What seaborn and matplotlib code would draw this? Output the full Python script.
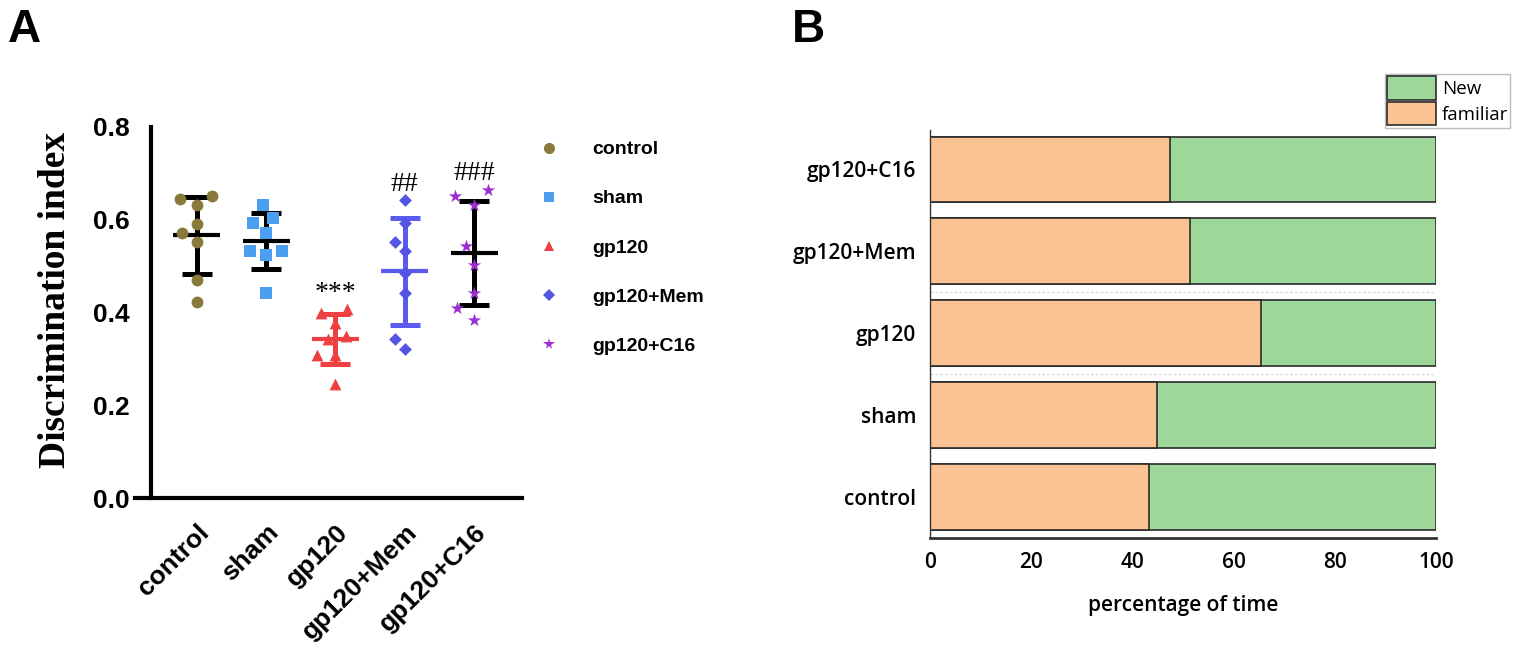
import matplotlib
matplotlib.use("Agg")
import matplotlib.pyplot as plt
from matplotlib.lines import Line2D
from matplotlib.patches import Patch
import numpy as np
import pandas as pd
import seaborn as sns

sns.set_style("white")
plt.rcParams["font.family"] = ["Liberation Sans", "DejaVu Sans"]
plt.rcParams["text.color"] = "black"
plt.rcParams["axes.labelcolor"] = "black"
plt.rcParams["xtick.color"] = "black"
plt.rcParams["ytick.color"] = "black"

# Panel A data: discrimination index per animal
groups = ["control", "sham", "gp120", "gp120+Mem", "gp120+C16"]
control_vals = [0.651, 0.644, 0.632, 0.591, 0.572, 0.552, 0.470, 0.422]
sham_vals = [0.632, 0.604, 0.593, 0.572, 0.532, 0.532, 0.523, 0.441]
gp120_vals = [0.407, 0.399, 0.378, 0.349, 0.343, 0.309, 0.309, 0.246]
mem_vals = [0.642, 0.593, 0.552, 0.532, 0.485, 0.441, 0.342, 0.322]
c16_vals = [0.664, 0.651, 0.632, 0.543, 0.503, 0.443, 0.409, 0.383]
sig_labels = ["", "", "***", "##", "###"]

# Panel B data: percentage of exploration time
bar_groups = ["gp120+C16", "gp120+Mem", "gp120", "sham", "control"]
familiar_pct = [47.5, 51.4, 65.4, 44.9, 43.3]
new_pct = [52.5, 48.6, 34.6, 55.1, 56.7]

# styles
point_colors = ["#897a3b", "#4c9ff0", "#ee4040", "#5353e6", "#9a2fd2"]
bar_colors = ["black", "black", "#ee4040", "#5a5aec", "black"]
markers = ["o", "s", "^", "D", "*"]
sizes = [8.5, 8.0, 8.5, 6.5, 10.0]
orange = "#fbc393"
green = "#9dd79a"

all_vals = [control_vals, sham_vals, gp120_vals, mem_vals, c16_vals]
df_a = pd.DataFrame({
    "group": np.repeat(groups, [len(v) for v in all_vals]),
    "value": np.concatenate(all_vals),
})
stats = df_a.groupby("group", sort=False)["value"].agg(["mean", "std", "max"])

df_b = pd.DataFrame({"group": bar_groups, "familiar": familiar_pct, "new": new_pct})
df_b["total"] = df_b["familiar"] + df_b["new"]

fig = plt.figure(figsize=(15.24, 6.59), dpi=100)

# ---------------- Panel A ----------------
axA = fig.add_axes([135 / 1524, 1 - 498 / 659, 387 / 1524, 371 / 659])

for i, g in enumerate(groups):
    m, sd = stats.loc[g, "mean"], stats.loc[g, "std"]
    axA.errorbar(i, m, yerr=sd, color=bar_colors[i], elinewidth=3.6,
                 capsize=11, capthick=3.6, fmt="none", zorder=2)
    axA.hlines(m, i - 0.34, i + 0.34, color=bar_colors[i], lw=3.0, zorder=2)

# swarm laid out with a wider spacing (like the GraphPad scatter), then shrunk
spread = 1.45
n_before = len(axA.collections)
for i, g in enumerate(groups):
    sns.swarmplot(data=df_a[df_a["group"] == g], x="group", y="value",
                  order=groups, color=point_colors[i], marker=markers[i],
                  size=sizes[i] * spread, linewidth=0, ax=axA, zorder=3)
swarms = axA.collections[n_before:]

for i, g in enumerate(groups):
    if sig_labels[i]:
        axA.text(i, stats.loc[g, "max"] + 0.035, sig_labels[i], ha="center",
                 va="center", fontsize=20, family="Liberation Serif")

axA.set_xlim(-0.89, 4.69)
axA.set_ylim(0, 0.8)
axA.spines["left"].set_position(("data", -0.664))
axA.spines["left"].set_bounds(0, 0.8)
axA.set_yticks([0.0, 0.2, 0.4, 0.6, 0.8])
axA.set_yticklabels(["0.0", "0.2", "0.4", "0.6", "0.8"], fontsize=19, fontweight="bold")
axA.set_xticks(range(len(groups)))
axA.set_xticklabels(groups, fontsize=19, fontweight="bold", rotation=45,
                    ha="right", rotation_mode="anchor")
for s in ["top", "right"]:
    axA.spines[s].set_visible(False)
for s in ["left", "bottom"]:
    axA.spines[s].set_linewidth(3)
    axA.spines[s].set_color("black")
axA.tick_params(axis="both", direction="out", length=10, width=2.4, color="black",
                labelcolor="black")
axA.tick_params(axis="y", pad=5)
axA.tick_params(axis="x", pad=6)
axA.set_xlabel("")
axA.set_ylabel("Discrimination index", fontsize=27, fontweight="bold",
               family="Liberation Serif", color="black")
axA.yaxis.set_label_coords(-0.16, 0.534)

# compute swarm positions, freeze them and shrink the markers back
fig.canvas.draw()
for coll in swarms:
    if "draw" in coll.__dict__:
        del coll.draw
    coll.set_sizes(np.asarray(coll.get_sizes()) / spread ** 2)

handles = [Line2D([], [], marker=markers[i], linestyle="none", color=point_colors[i],
                  markersize=[8, 7.5, 7.5, 6, 8.5][i], markeredgewidth=0)
           for i in range(len(groups))]
fig.legend(handles, groups, loc="upper left", bbox_to_anchor=(530 / 1524, 1 - 131 / 659),
           frameon=False, borderpad=0, handlelength=1.0, handletextpad=1.7,
           labelspacing=1.62, labelcolor="black",
           prop={"family": "Liberation Sans", "weight": "bold", "size": 14})

# ---------------- Panel B ----------------
axB = fig.add_axes([930 / 1524, 1 - 537.7 / 659, 506 / 1524, 407.7 / 659])
sns.barplot(data=df_b, y="group", x="total", order=bar_groups, orient="h",
            color=green, edgecolor="#2b2b2b", linewidth=1.2, width=0.8,
            saturation=1, ax=axB)
sns.barplot(data=df_b, y="group", x="familiar", order=bar_groups, orient="h",
            color=orange, edgecolor="#2b2b2b", linewidth=1.2, width=0.8,
            saturation=1, ax=axB)
for yy in [1.5, 2.5]:
    axB.axhline(yy, color="#d5dae3", lw=1.0, ls=(0, (2, 1.5)), zorder=0)

axB.set_xlim(0, 100)
axB.set_ylim(4.5, -0.48)
axB.set_xticks([0, 20, 40, 60, 80, 100])
bfont = {"family": "Open Sans", "weight": "semibold", "size": 15}
axB.set_xticklabels(["0", "20", "40", "60", "80", "100"], fontdict=bfont)
axB.set_yticklabels(bar_groups, fontdict=bfont)
axB.tick_params(axis="both", length=0, labelcolor="black")
axB.tick_params(axis="x", pad=10)
axB.tick_params(axis="y", pad=10)
axB.set_ylabel("")
axB.set_xlabel("percentage of time", fontdict=bfont, labelpad=16, color="black")
for s in ["top", "right"]:
    axB.spines[s].set_visible(False)
axB.spines["left"].set_linewidth(1.0)
axB.spines["left"].set_color("#333333")
axB.spines["bottom"].set_linewidth(2.0)
axB.spines["bottom"].set_color("#333333")

leg_handles = [Patch(facecolor=green, edgecolor="#2b2b2b", linewidth=1.2),
               Patch(facecolor=orange, edgecolor="#2b2b2b", linewidth=1.2)]
fig.legend(leg_handles, ["New", "familiar"], loc="upper left",
           bbox_to_anchor=(1385 / 1524, 1 - 74 / 659), frameon=True, fancybox=False,
           edgecolor="#bbbbbb", framealpha=1, borderpad=0.12, handlelength=2.6,
           handleheight=1.55, handletextpad=0.3, labelspacing=0.12, borderaxespad=0,
           labelcolor="black", prop={"family": "Open Sans", "size": 13.5})

# panel letters
fig.text(8 / 1524, 1 - 42 / 659, "A", fontsize=33, fontweight="bold", family="Liberation Sans")
fig.text(792 / 1524, 1 - 42 / 659, "B", fontsize=33, fontweight="bold", family="Liberation Sans")

fig.savefig("out.png", dpi=100)
